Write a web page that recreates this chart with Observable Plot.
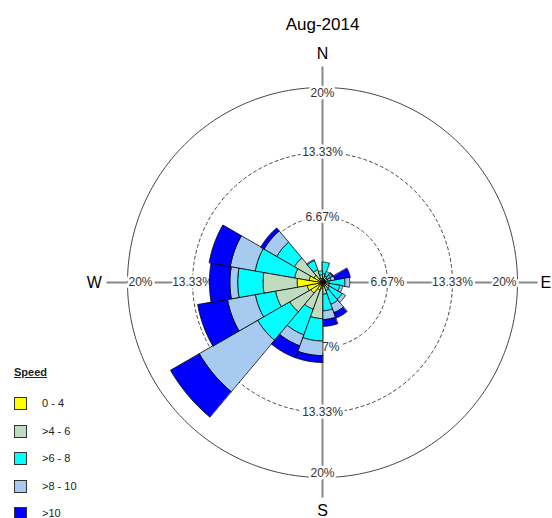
<!DOCTYPE html>
<html>
<head>
<meta charset="utf-8">
<script src="https://cdn.jsdelivr.net/npm/d3@7"></script>
<script src="https://cdn.jsdelivr.net/npm/@observablehq/plot@0.6"></script>
<style>
  body { margin: 0; background: #fff; font-family: "Liberation Sans", Arial, sans-serif; }
  #wrap { position: relative; width: 552px; height: 518px; overflow: hidden; }
  #legend { position: absolute; left: 14px; top: 366px; font-size: 11px; color: #222; }
  #legend .lt { font-weight: bold; text-decoration: underline; margin-bottom: 12px; }
  #legend .item { position: absolute; left: 0; width: 120px; height: 13px; }
  #legend .sw { position: absolute; left: 0; top: 0; width: 11px; height: 11px; border: 1px solid #333; }
  #legend .lb { position: absolute; left: 28px; top: 0; line-height: 13px; }
</style>
</head>
<body>
<div id="wrap"><div id="chart"></div><div id="legend"></div></div>
<script>
// ---------- data ----------
const title = "Aug-2014";
const directions = [10, 30, 50, 70, 90, 110, 130, 150, 170, 190, 210, 230, 250, 270, 290, 310, 330, 350];
const speedBins = ["0 - 4", ">4 - 6", ">6 - 8", ">8 - 10", ">10"];
const speedColors = ["#FFFF00", "#C0DCC0", "#00FFFF", "#A6CAF0", "#0000FF"];
const freq0to4   = [0.4, 0.3, 0.3, 0.3, 0.3, 0.3, 0.3, 0.3, 0.4, 0.6, 0.8, 1.4, 1.6, 2.6, 1.4, 1.0, 0.5, 0.4];
const freq4to6   = [0.5, 0.4, 0.3, 0.3, 0.4, 0.4, 0.5, 0.6, 0.8, 3.1, 2.1, 2.5, 3.3, 3.5, 1.5, 2.3, 0.9, 0.4];
const freq6to8   = [1.2, 0.5, 0.4, 0.3, 1.6, 1.1, 1.5, 1.5, 1.7, 2.3, 2.8, 3.8, 2.1, 2.6, 4.1, 2.1, 1.0, 0.4];
const freq8to10  = [0.0, 0.0, 0.2, 0.4, 0.5, 0.3, 0.4, 0.9, 0.9, 1.5, 1.2, 6.9, 2.9, 0.8, 2.6, 1.5, 0.1, 0.0];
const freqOver10 = [0.0, 0.0, 0.1, 1.6, 0.0, 0.0, 0.0, 0.6, 0.7, 0.7, 1.3, 3.4, 3.1, 2.1, 2.2, 0.4, 0.0, 0.0];
const gridLevels = [6.67, 13.33, 20];
const gridLabels = ["6.67%", "13.33%", "20%"];
const compassLabels = ["N", "E", "S", "W"];
const compassAngles = [0, 90, 180, 270];

// ---------- layout ----------
const W = 552, H = 518;
const cx = 322, cy = 282, pxPerPct = 9.75;
const sectorWidth = 20;
const axisExtent = 22.1;
const compassRadii = [23.4, 22.9, 23.4, 23.4];

const freqs = [freq0to4, freq4to6, freq6to8, freq8to10, freqOver10];
const rad = a => a * Math.PI / 180;
const pt = (r, a) => ({x: r * Math.sin(rad(a)), y: r * Math.cos(rad(a))});

// sector polygons
const polys = [];
directions.forEach((dir, i) => {
  let r0 = 0;
  freqs.forEach((f, j) => {
    const r1 = r0 + f[i];
    if (f[i] > 0) {
      const id = `${dir}-${j}`;
      const a0 = dir - sectorWidth / 2, a1 = dir + sectorWidth / 2;
      const pts = [];
      for (let a = a0; a <= a1 + 1e-9; a += 1) pts.push(pt(r1, a));
      for (let a = a1; a >= a0 - 1e-9; a -= 1) pts.push(pt(r0, a));
      pts.forEach(p => polys.push({...p, id, speed: speedBins[j]}));
    }
    r0 = r1;
  });
});

// grid circles
const circlePts = gridLevels.flatMap(r => d3.range(0, 361, 1).map(a => ({...pt(r, a), r})));
const dashed = circlePts.filter(d => d.r < 20);
const solid = circlePts.filter(d => d.r >= 20);

// inner labels (centered on circles)
const innerLabels = [];
compassAngles.forEach(a => gridLevels.slice(0, 2).forEach((r, k) => innerLabels.push({...pt(r, a), label: gridLabels[k]})));
const outer = a => [{...pt(gridLevels[2], a), label: gridLabels[2]}];

const compass = compassAngles.map((a, k) => ({...pt(compassRadii[k], a), label: compassLabels[k]}));

const xDomain = [-cx / pxPerPct, (W - cx) / pxPerPct];
const yDomain = [-(H - cy) / pxPerPct, cy / pxPerPct];

const labelStyle = {fill: "#333", fontSize: 12, stroke: "white", strokeWidth: 5};

const chart = Plot.plot({
  width: W, height: H, margin: 0,
  x: {domain: xDomain, axis: null},
  y: {domain: yDomain, axis: null},
  color: {domain: speedBins, range: speedColors},
  style: {fontFamily: "'Liberation Sans', Arial, sans-serif", background: "white", overflow: "visible"},
  marks: [
    Plot.line(dashed, {x: "x", y: "y", z: "r", stroke: "#444", strokeWidth: 1, strokeDasharray: "3,3"}),
    Plot.line(solid, {x: "x", y: "y", z: "r", stroke: "#444", strokeWidth: 1}),
    Plot.ruleX([0], {y1: -axisExtent, y2: axisExtent, stroke: "#888", strokeWidth: 2}),
    Plot.ruleY([0], {x1: -axisExtent, x2: axisExtent, stroke: "#888", strokeWidth: 2}),
    Plot.text(innerLabels, {x: "x", y: "y", text: "label", ...labelStyle}),
    Plot.text(outer(0), {x: "x", y: "y", text: "label", lineAnchor: "top", dy: 1, ...labelStyle}),
    Plot.text(outer(180), {x: "x", y: "y", text: "label", lineAnchor: "bottom", dy: -1, ...labelStyle}),
    Plot.text(outer(90), {x: "x", y: "y", text: "label", textAnchor: "end", dx: -1, ...labelStyle}),
    Plot.text(outer(270), {x: "x", y: "y", text: "label", textAnchor: "start", dx: 1, ...labelStyle}),
    Plot.line(polys, {x: "x", y: "y", z: "id", fill: "speed", stroke: "black", strokeWidth: 0.8, curve: "linear-closed"}),
    Plot.text(compass, {x: "x", y: "y", text: "label", fontSize: 16, fill: "black"}),
    Plot.text([title], {x: () => 0, y: () => (cy - 24) / pxPerPct, text: d => d, fontSize: 17, fill: "black"})
  ]
});
document.getElementById("chart").appendChild(chart);

// legend
const legend = d3.select("#legend");
legend.append("div").attr("class", "lt").text("Speed");
speedBins.forEach((s, i) => {
  const it = legend.append("div").attr("class", "item").style("top", `${31 + i * 27.5}px`);
  it.append("div").attr("class", "sw").style("background", speedColors[i]);
  it.append("div").attr("class", "lb").text(s);
});
</script>
</body>
</html>
